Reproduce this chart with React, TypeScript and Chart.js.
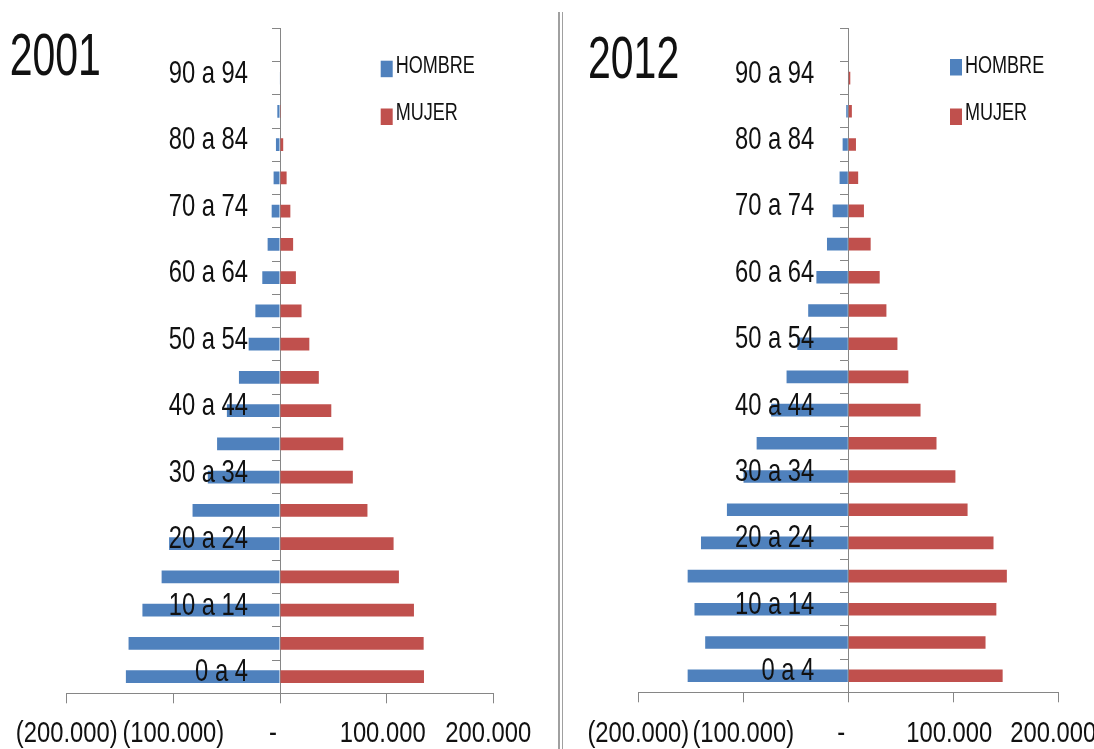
import React, { useEffect, useRef } from "react";
import { Chart, registerables } from "chart.js";

Chart.register(...registerables);

const AGE_GROUPS = [
  "0 a 4", "5 a 9", "10 a 14", "15 a 19", "20 a 24", "25 a 29", "30 a 34",
  "35 a 39", "40 a 44", "45 a 49", "50 a 54", "55 a 59", "60 a 64", "65 a 69",
  "70 a 74", "75 a 79", "80 a 84", "85 a 89", "90 a 94", "95 y más",
];
const SERIES = ["HOMBRE", "MUJER"];
const HOMBRE_2001 = [144500, 142000, 129000, 111000, 104000, 82000, 67700, 59000, 49800, 38500, 29400, 23100, 16600, 11600, 7800, 6000, 3800, 2500, 400, 0];
const MUJER_2001 = [135000, 134700, 125600, 111500, 106500, 82000, 68300, 59300, 48100, 36400, 27500, 20200, 14900, 12300, 9700, 6200, 3000, 800, 500, 0];
const HOMBRE_2012 = [153000, 136300, 146500, 153000, 140300, 115600, 99800, 87300, 73500, 58800, 48600, 38200, 30400, 20300, 14900, 8300, 5400, 2000, 500, 0];
const MUJER_2012 = [147000, 130700, 141000, 151000, 138300, 113600, 102000, 84000, 68800, 57200, 46800, 36300, 29900, 21300, 14900, 9400, 7300, 3400, 1900, 0];
const X_TICK_VALUES = [-200000, -100000, 0, 100000, 200000];
const X_TICK_LABELS = ["(200.000)", "(100.000)", "-", "100.000", "200.000"];

const COLORS = ["#4F81BD", "#C0504D"];
const FONT = "'Liberation Sans', Arial, sans-serif";
const NARROW_X = 0.82;
const AXIS_GRAY = "#868686";
const TEXT = "#111111";
const TICK_LABEL_SHIFT = [0, 0, -7, -4, -5];

type Setup = {
  title: string;
  left: number;
  width: number;
  padLeft: number;
  padRight: number;
  axisHeight: number;
  titleX: number;
  titleY: number;
  legendX: number;
  legendBoxY: number[];
  legendTextY: number[];
  labelGap: number;
  tickLabelY: number;
};

function drawText(
  ctx: CanvasRenderingContext2D,
  text: string,
  x: number,
  y: number,
  size: number,
  align: CanvasTextAlign,
  sy = 1
) {
  ctx.save();
  ctx.font = `${size}px ${FONT}`;
  ctx.textAlign = align;
  ctx.textBaseline = "alphabetic";
  ctx.fillStyle = TEXT;
  ctx.translate(x, y);
  ctx.scale(NARROW_X, sy);
  ctx.fillText(text, 0, 0);
  ctx.restore();
}

const pyramidText = {
  id: "pyramidText",
  afterDraw(chart: any, _args: any, o: any) {
    const ctx = chart.ctx as CanvasRenderingContext2D;
    const xs = chart.scales.x;
    const ys = chart.scales.y;

    drawText(ctx, o.title, o.titleX, o.titleY, 50, "left", 1.18);

    SERIES.forEach((name, i) => {
      ctx.save();
      ctx.fillStyle = COLORS[i];
      ctx.fillRect(o.legendX, o.legendBoxY[i], 12, 16.5);
      ctx.restore();
      drawText(ctx, name, o.legendX + 15, o.legendTextY[i], 22, "left", 1.05);
    });

    const x0 = xs.getPixelForValue(0);
    AGE_GROUPS.forEach((lab, i) => {
      if (i % 2 === 0) {
        drawText(ctx, lab, x0 - o.labelGap, ys.getPixelForValue(i) + 4.5, 29, "right", 1.05);
      }
    });

    X_TICK_VALUES.forEach((v, i) => {
      drawText(ctx, X_TICK_LABELS[i], xs.getPixelForValue(v) + TICK_LABEL_SHIFT[i], o.tickLabelY, 29, "center", 1.02);
    });
  },
};

function PyramidChart({ hombre, mujer, setup }: { hombre: number[]; mujer: number[]; setup: Setup }) {
  const ref = useRef<HTMLCanvasElement>(null);
  useEffect(() => {
    const chart = new Chart(ref.current as HTMLCanvasElement, {
      type: "bar",
      data: {
        labels: AGE_GROUPS,
        datasets: [
          {
            label: SERIES[0],
            data: hombre.map((v) => -v),
            backgroundColor: COLORS[0],
            barPercentage: 0.38,
            categoryPercentage: 1,
          },
          {
            label: SERIES[1],
            data: mujer,
            backgroundColor: COLORS[1],
            barPercentage: 0.38,
            categoryPercentage: 1,
          },
        ],
      },
      options: {
        indexAxis: "y",
        responsive: false,
        animation: false,
        layout: {
          padding: { left: setup.padLeft, right: setup.padRight, top: 28.3, bottom: 0 },
        },
        scales: {
          x: {
            type: "linear",
            min: -200000,
            max: 200000,
            stacked: true,
            afterFit: (s: any) => {
              s.height = setup.axisHeight;
            },
            ticks: {
              stepSize: 100000,
              autoSkip: false,
              maxRotation: 0,
              display: false,
            },
            grid: { drawOnChartArea: false, drawTicks: true, tickLength: 10, color: AXIS_GRAY },
            border: { display: true, color: AXIS_GRAY, width: 1 },
          },
          y: {
            type: "category",
            stacked: true,
            reverse: true,
            position: { x: 0 } as any,
            z: 1,
            ticks: { display: false },
            grid: { drawOnChartArea: false, drawTicks: true, tickLength: 8, color: AXIS_GRAY, offset: true },
            border: { display: true, color: AXIS_GRAY, width: 1 },
          },
        },
        plugins: {
          legend: { display: false },
          tooltip: { enabled: false },
          title: { display: false },
          pyramidText: {
            title: setup.title,
            titleX: setup.titleX,
            titleY: setup.titleY,
            legendX: setup.legendX,
            legendBoxY: setup.legendBoxY,
            legendTextY: setup.legendTextY,
            labelGap: setup.labelGap,
            tickLabelY: setup.tickLabelY,
          },
        } as any,
      },
      plugins: [pyramidText],
    } as any);
    return () => chart.destroy();
  }, []);
  return (
    <canvas
      ref={ref}
      width={setup.width}
      height={749}
      style={{ position: "absolute", left: setup.left, top: 0, width: setup.width, height: 749 }}
    />
  );
}

const LEFT_SETUP: Setup = {
  title: "2001",
  left: 0,
  width: 556,
  padLeft: 66.7,
  padRight: 62.7,
  axisHeight: 55.7,
  titleX: 9.7,
  titleY: 75,
  legendX: 380.7,
  legendBoxY: [60.7, 108.5],
  legendTextY: [72.7, 120],
  labelGap: 32,
  tickLabelY: 742,
};

const RIGHT_SETUP: Setup = {
  title: "2012",
  left: 566,
  width: 560,
  padLeft: 72.3,
  padRight: 67.7,
  axisHeight: 56.7,
  titleX: 22,
  titleY: 78,
  legendX: 384,
  legendBoxY: [59, 108.5],
  legendTextY: [73.3, 120],
  labelGap: 34,
  tickLabelY: 742,
};

export default function App() {
  return (
    <div
      style={{
        position: "fixed",
        left: 0,
        top: 0,
        width: 1094,
        height: 749,
        overflow: "hidden",
        background: "#ffffff",
      }}
    >
      <PyramidChart hombre={HOMBRE_2001} mujer={MUJER_2001} setup={LEFT_SETUP} />
      <div style={{ position: "absolute", left: 558, top: 12, width: 1.5, height: 737, background: "#a0a0a0" }} />
      <div style={{ position: "absolute", left: 561.5, top: 12, width: 1.5, height: 737, background: "#a0a0a0" }} />
      <PyramidChart hombre={HOMBRE_2012} mujer={MUJER_2012} setup={RIGHT_SETUP} />
    </div>
  );
}
